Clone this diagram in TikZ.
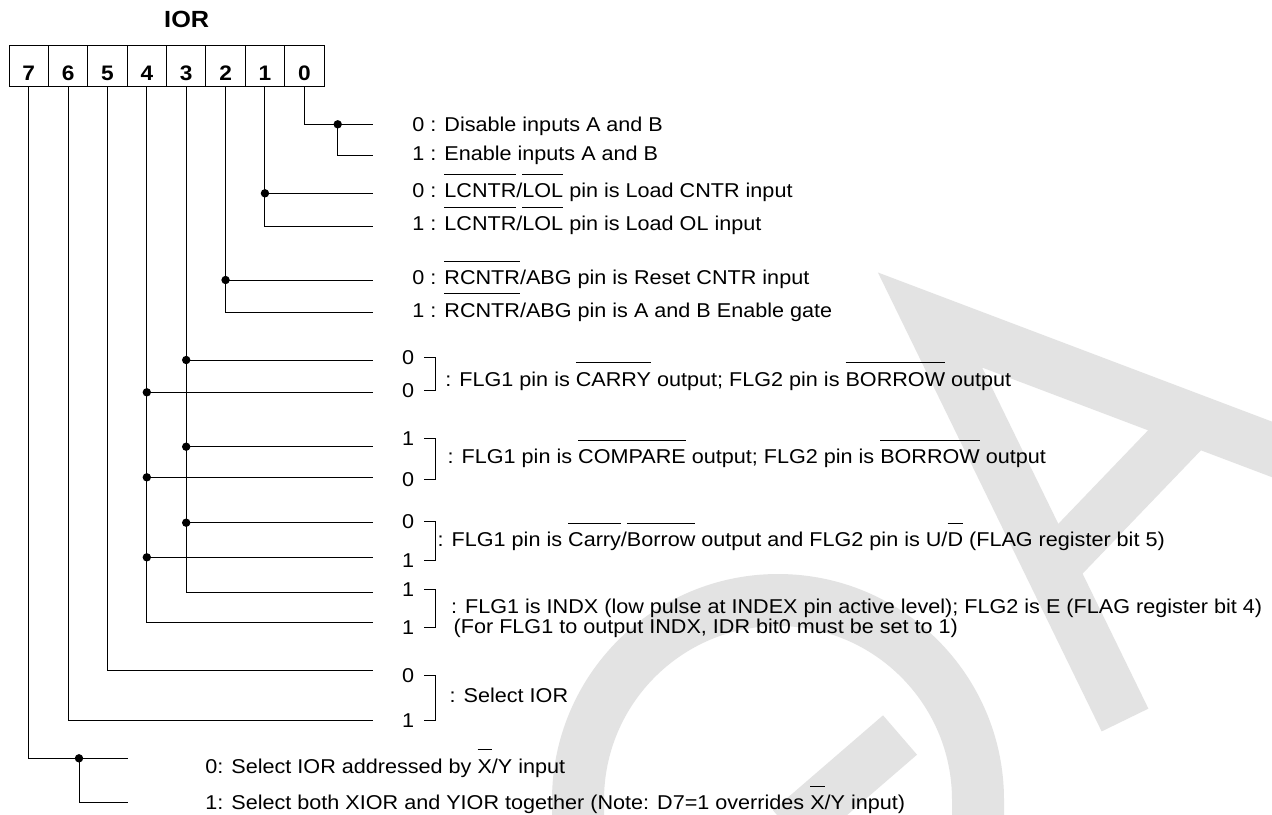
\documentclass[tikz,border=0pt]{standalone}
\usepackage{fontspec}
\setmainfont{Liberation Sans}[FakeStretch=1.08]
\newsavebox\ovlbox
\newcommand{\ovl}[1]{\sbox\ovlbox{#1}\rlap{\rule[1.15em]{\wd\ovlbox}{0.45pt}}\usebox\ovlbox}
\tikzset{bitcell/.style={draw, line width=0.5pt, minimum width=19.69pt, inner sep=0pt,
  text height=17.5pt, text depth=3.35pt, font=\fontsize{10.5}{12}\selectfont\bfseries},
  wire/.style={line width=0.5pt},
  tap/.style={circle, fill, inner sep=0pt, minimum size=4.2pt},
  opt/.style={anchor=base west, inner sep=0pt, font=\fontsize{10}{12}\selectfont},
  lvl/.style={anchor=base, inner sep=0pt, font=\fontsize{10}{12}\selectfont},
  wmark/.style={draw=black!11, line width=26pt}}

\begin{document}
\begin{tikzpicture}[x=0.5pt,y=-0.5pt]
  \useasboundingbox (0,0) rectangle (1272,814);
  \fill[white] (0,0) rectangle (1272,814);
  % faint logo behind the text
  \draw[wmark, line join=miter] (1300,460) -- (930,320) -- (1125,720);
  \draw[wmark] (1050,570) -- (1194,420);
  \draw[wmark] (578,840) -- (578,800) arc[start angle=180, end angle=360, radius=200] -- (978,840);
  \draw[wmark] (790,830) -- (900,735);

  % register
  \node[font=\fontsize{11.7}{14}\selectfont\bfseries, anchor=base] (title) at (186.7,27.9) {IOR};
  \node[bitcell] (b7) at (28.69,65.85) {7};
  \node[bitcell] (b6) at (68.06,65.85) {6};
  \node[bitcell] (b5) at (107.44,65.85) {5};
  \node[bitcell] (b4) at (146.81,65.85) {4};
  \node[bitcell] (b3) at (186.19,65.85) {3};
  \node[bitcell] (b2) at (225.56,65.85) {2};
  \node[bitcell] (b1) at (264.94,65.85) {1};
  \node[bitcell] (b0) at (304.31,65.85) {0};

  % line ends
  \coordinate (r0a) at (372.7,124.3);
  \coordinate (r0b) at (372.7,155.7);
  \coordinate (r1a) at (372.7,193.3);
  \coordinate (r1b) at (372.7,226);
  \coordinate (r2a) at (372.7,280);
  \coordinate (r2b) at (372.7,312.7);
  \coordinate (r3a) at (372.7,360);
  \coordinate (r4a) at (372.7,392.3);
  \coordinate (r3b) at (372.7,446.7);
  \coordinate (r4b) at (372.7,477.3);
  \coordinate (r3c) at (372.7,522.7);
  \coordinate (r4c) at (372.7,557.3);
  \coordinate (r3d) at (372.7,592.7);
  \coordinate (r4d) at (372.7,622.3);
  \coordinate (r5) at (372.7,670.3);
  \coordinate (r6) at (372.7,720.3);
  \coordinate (r7a) at (127.7,758.3);
  \coordinate (r7b) at (127.7,802.7);

  % bit 0
  \draw[wire] (b0.south) |- (r0a);
  \node[tap] (t0) at (337.7,124.3) {};
  \draw[wire] (t0.center) |- (r0b);
  % bit 1
  \draw[wire] (b1.south) |- (r1b);
  \node[tap] (t1) at (b1.south |- r1a) {};
  \draw[wire] (t1.center) -- (r1a);
  % bit 2
  \draw[wire] (b2.south) |- (r2b);
  \node[tap] (t2) at (b2.south |- r2a) {};
  \draw[wire] (t2.center) -- (r2a);
  % bits 3 and 4
  \draw[wire] (b3.south) |- (r3d);
  \draw[wire] (b4.south) |- (r4d);
  \node[tap] (t3a) at (b3.south |- r3a) {};
  \node[tap] (t3b) at (b3.south |- r3b) {};
  \node[tap] (t3c) at (b3.south |- r3c) {};
  \node[tap] (t4a) at (b4.south |- r4a) {};
  \node[tap] (t4b) at (b4.south |- r4b) {};
  \node[tap] (t4c) at (b4.south |- r4c) {};
  \draw[wire] (t3a.center) -- (r3a);
  \draw[wire] (t3b.center) -- (r3b);
  \draw[wire] (t3c.center) -- (r3c);
  \draw[wire] (t4a.center) -- (r4a);
  \draw[wire] (t4b.center) -- (r4b);
  \draw[wire] (t4c.center) -- (r4c);
  % bits 5 and 6
  \draw[wire] (b5.south) |- (r5);
  \draw[wire] (b6.south) |- (r6);
  % bit 7
  \draw[wire] (b7.south) |- (r7a);
  \node[tap] (t7) at (79,758.3) {};
  \draw[wire] (t7.center) |- (r7b);

  % single bit texts
  \node[opt] (o0a) at (412,131) {0 : Disable inputs A and B};
  \node[opt] (o0b) at (412,160.2) {1 : Enable inputs A and B};
  \node[opt] (o1a) at (412,197.8) {0 : \ovl{LCNTR}/\ovl{LOL} pin is Load CNTR input};
  \node[opt] (o1b) at (412,230.5) {1 : \ovl{LCNTR}/\ovl{LOL} pin is Load OL input};
  \node[opt] (o2a) at (412,284.5) {0 : \ovl{RCNTR}/ABG pin is Reset CNTR input};
  \node[opt] (o2b) at (412,317.2) {1 : \ovl{RCNTR}/ABG pin is A and B Enable gate};

  % two bit codes
  \node[lvl] (gA3) at (408,364.9) {0};
  \node[lvl] (gA4) at (408,397.9) {0};
  \draw[wire] (424,357.7) -| (435,390.7) -- (424,390.7);
  \node[opt] (sA) at (445,386.2) {: FLG1 pin is \ovl{CARRY} output; FLG2 pin is \ovl{BORROW} output};
  \node[lvl] (gB3) at (408,445.5) {1};
  \node[lvl] (gB4) at (408,486.5) {0};
  \draw[wire] (424,438.3) -| (435,479.3) -- (424,479.3);
  \node[opt] (sB) at (447.3,463.9) {: FLG1 pin is \ovl{COMPARE} output; FLG2 pin is \ovl{BORROW} output};
  \node[lvl] (gC3) at (408,528.2) {0};
  \node[lvl] (gC4) at (408,567.2) {1};
  \draw[wire] (424,521) -| (435,560) -- (424,560);
  \node[opt] (sC) at (437.3,546.5) {: FLG1 pin is \ovl{Carry}/\ovl{Borrow} output and FLG2 pin is U/\ovl{D} (FLAG register bit 5)};
  \node[lvl] (gD3) at (408,596.5) {1};
  \node[lvl] (gD4) at (408,634.9) {1};
  \draw[wire] (424,589.3) -| (435,627.7) -- (424,627.7);
  \node[opt] (sD1) at (450.7,613.9) {: FLG1 is INDX (low pulse at INDEX pin active level); FLG2 is E (FLAG register bit 4)};
  \node[opt] (sD2) at (453.3,633.9) {(For FLG1 to output INDX, IDR bit0 must be set to 1)};
  \node[lvl] (gE5) at (408,682.2) {0};
  \node[lvl] (gE6) at (408,727.2) {1};
  \draw[wire] (424,675) -| (435,720) -- (424,720);
  \node[opt] (sE) at (449.3,702.2) {: Select IOR};

  % bit 7 texts
  \node[opt] (o7a) at (205,773.2) {0: Select IOR addressed by \ovl{X}/Y input};
  \node[opt] (o7b) at (205,809.5) {1: Select both XIOR and YIOR together (Note: D7=1 overrides \ovl{X}/Y input)};
\end{tikzpicture}
\end{document}
